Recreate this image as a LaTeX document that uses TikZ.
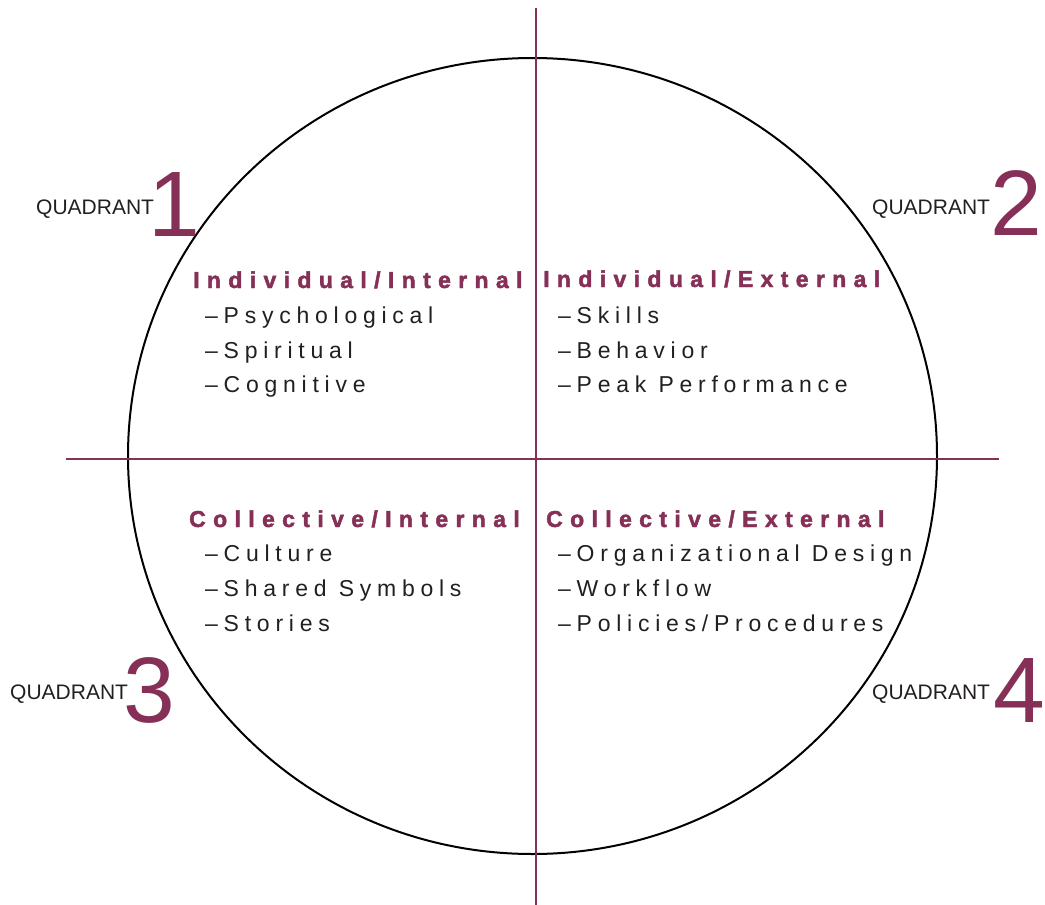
\documentclass[tikz,border=0pt]{standalone}
\usepackage{fontspec}
\setmainfont{Liberation Sans}
\newfontfamily\itemfont[LetterSpace=25,Ligatures=NoCommon]{Liberation Sans}
\newfontfamily\headfont[LetterSpace=32,Ligatures=NoCommon,BoldFeatures={FakeBold=2}]{Liberation Sans}
\definecolor{plum}{RGB}{134,48,88}
\definecolor{inkgray}{RGB}{35,31,32}
\tikzset{
	quadlbl/.style={anchor=base west,inner sep=0pt,text=inkgray,font=\fontsize{21}{21}\selectfont},
	quadnum/.style={anchor=base west,inner sep=0pt,text=plum,font=\fontsize{93}{93}\selectfont},
	headtxt/.style={anchor=base west,inner sep=0pt,text=plum,font=\headfont\bfseries\fontsize{23}{23}\selectfont},
	itemtxt/.style={anchor=base west,inner sep=0pt,text=inkgray,font=\itemfont\fontsize{23}{23}\selectfont},
	axisline/.style={plum,line width=2pt}
}

\begin{document}
\begin{tikzpicture}[x=1pt,y=-1pt]
				\useasboundingbox (0,0) rectangle (1045,905);
				\draw[black,line width=2pt] (532.5,456) ellipse [x radius=404.5,y radius=398];
				
				\coordinate (vtop) at (536,8);
				\coordinate (vbot) at (536,905);
				\coordinate (hleft) at (66,459);
				\coordinate (hright) at (999,459);
				\draw[axisline] (vtop) -- (vbot);
				\draw[axisline] (hleft) -- (hright);
				
				\node[quadlbl] (q1lbl) at (36,214) {QUADRANT};
				\node[quadnum] (q1num) at (148,236) {1};
				\node[quadlbl] (q2lbl) at (872,214) {QUADRANT};
				\node[quadnum] (q2num) at (990,235) {2};
				\node[quadlbl] (q3lbl) at (10,699) {QUADRANT};
				\node[quadnum] (q3num) at (123,722) {3};
				\node[quadlbl] (q4lbl) at (872,699) {QUADRANT};
				\node[quadnum] (q4num) at (993,722) {4};
				
				\node[headtxt] (q1head) at (193,288) {Individual/Internal};
				\node[itemtxt] (q1a) at (205,323) {–Psychological};
				\node[itemtxt] (q1b) at (205,358) {–Spiritual};
				\node[itemtxt] (q1c) at (205,392) {–Cognitive};
				
				\node[headtxt] (q2head) at (543,287) {Individual/External};
				\node[itemtxt] (q2a) at (558,323) {–Skills};
				\node[itemtxt] (q2b) at (558,358) {–Behavior};
				\node[itemtxt] (q2c) at (558,392) {–Peak Performance};
				
				\node[headtxt] (q3head) at (189,527) {Collective/Internal};
				\node[itemtxt] (q3a) at (205,561) {–Culture};
				\node[itemtxt] (q3b) at (205,596) {–Shared Symbols};
				\node[itemtxt] (q3c) at (205,631) {–Stories};
				
				\node[headtxt] (q4head) at (546,527) {Collective/External};
				\node[itemtxt] (q4a) at (558,561) {–Organizational Design};
				\node[itemtxt] (q4b) at (558,596) {–Workflow};
				\node[itemtxt] (q4c) at (558,631) {–Policies/Procedures};
			\end{tikzpicture}
\end{document}
